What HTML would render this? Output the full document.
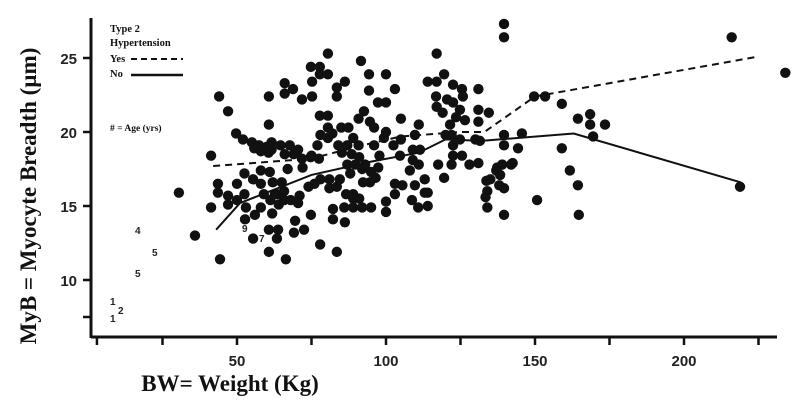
<!DOCTYPE html>
<html><head><meta charset="utf-8"><style>
body{margin:0;background:#fff}
svg{display:block}
.tk{font-family:"Liberation Sans Narrow","Liberation Sans",sans-serif;font-weight:bold;font-size:15px;fill:#222}
.lg{font-family:"Liberation Serif",serif;font-weight:bold;font-size:10.5px;fill:#111}
.ag{font-family:"Liberation Sans",sans-serif;font-weight:bold;font-size:10px;fill:#222}
.tt{font-family:"Liberation Serif",serif;font-weight:bold;font-size:23px;fill:#111}
</style></head><body>
<svg id="chart" width="801" height="408" viewBox="0 0 801 408">
<g id="axes"></g>
<g id="marks"></g>
<g>
<text class="lg" x="110" y="32">Type 2</text>
<text class="lg" x="110" y="46">Hypertension</text>
<text class="lg" x="110" y="62">Yes</text>
<line x1="131" y1="59" x2="183" y2="59" stroke="#111" stroke-width="2" stroke-dasharray="6,4"/>
<text class="lg" x="110" y="77">No</text>
<line x1="131" y1="75" x2="183" y2="75" stroke="#111" stroke-width="2.5"/>
<text class="lg" x="110" y="131" style="font-size:9.5px"># = Age (yrs)</text>
</g>
<g>
<text class="ag" x="135" y="234">4</text>
<text class="ag" x="152" y="256">5</text>
<text class="ag" x="135" y="277">5</text>
<text class="ag" x="110" y="305">1</text>
<text class="ag" x="118" y="314">2</text>
<text class="ag" x="110" y="322">1</text>
<text class="ag" x="242" y="232">9</text>
<text class="ag" x="259" y="242">7</text>
</g>
<text class="tt" x="230" y="391" text-anchor="middle">BW= Weight (Kg)</text>
<text class="tt" transform="translate(36,196) rotate(-90)" text-anchor="middle">MyB = Myocyte Breadth (µm)</text>
</svg>
<script>
const xTicks=[3,25,50,75,100,125,150,175,200,225];
const xLabels=[50,100,150,200];
const yTicks=[7.5,10,15,20,25];
const yLabels=[10,15,20,25];
const yesLine=[[42,17.7],[75,18.2],[90,19.0],[105,19.7],[125,20.0],[133,20.0],[150,22.4],[225,25.1]];
const noLine=[[43,13.4],[51,15.2],[75,17.1],[95,18.0],[111,18.6],[120,19.5],[132,19.4],[163,19.9],[219,16.6]];
const weights=[30.5,35.9,41.3,41.3,44,47,49.7,44.3,43.6,43.6,47,47,50,52,55,60.7,60.7,66,66,68.8,71.8,74.8,75.2,75.2,77.8,77.8,80.5,80.5,83.5,83.5,86.2,91.6,94.3,94.3,97.3,100,100,103,
52.7,55.4,60.7,63.4,66.4,60.7,63.8,69.1,72.5,69.5,77.9,83.5,74.8,82.2,86.2,82.2,86,89,92,95,89,91,100,100,
52.5,55.4,50,52.5,53,56,58,59,61.2,61.8,63.5,64,65.8,65.8,68,71,70.5,74,76,78,81,81,83.5,84.5,86.6,89,58,58,61,62,67,72,74.7,77.5,65,62.7,
55.8,57.4,58,60,60.6,61.6,61.6,64.6,66,67.7,69,70.5,71.8,75,77,78,80.5,80.5,82,84,85.2,85,87.4,89,90.8,92.6,94.6,96,99.3,100,102.5,87,88.5,89.7,91,92,93,95,96.5,97.4,94.6,92.3,87,88,90.8,96,97.8,103,103,77.8,80.5,
139.6,139.6,216,234,218.8,117,114,117,119.5,122.5,125.5,131,116.8,120.5,117,119,122.5,124.8,125.8,123.5,121.5,126.5,131,131,134.5,
122,124.8,122.5,130,131.5,120,122.5,125.5,122,128,131,117.5,119.5,
105,111,105,109.7,109,104.7,109,108,111,113,105.5,109.7,113,108.7,110.8,114,114,111.4,
133.7,134,133.4,137,138,138.3,139,139.6,139.6,142,142.5,145.6,144.3,139.6,134,139.6,135,137.3,
149.7,153.4,159,159,161.7,164.4,164.7,150.7,164.4,168.5,168.5,173.5,169.5];
const breadths=[15.9,13.0,18.4,14.9,22.4,21.4,19.9,11.4,16.5,15.9,15.7,15.1,15.4,19.5,19.3,22.4,20.5,23.3,22.6,22.9,22.2,24.4,23.4,22.4,24.4,23.9,25.3,23.9,23.0,22.4,23.4,24.8,23.9,22.8,22.0,23.9,22.0,22.9,
14.1,12.8,11.9,12.8,11.4,13.4,13.4,13.2,13.4,14.0,12.4,11.9,14.4,14.1,13.9,14.8,14.9,14.9,14.9,14.9,15.5,15.5,14.6,15.3,
17.2,16.8,16.5,15.8,14.9,14.4,14.9,15.8,15.4,14.5,15.8,15.1,16.0,15.4,15.4,15.7,15.2,16.3,16.5,16.8,16.8,16.2,16.3,16.8,15.8,15.8,17.4,16.5,17.3,16.6,17.5,17.6,18.3,18.2,16.6,15.8,
18.9,19.1,18.7,19.0,18.6,19.3,18.8,19.1,18.5,19.1,18.5,18.8,18.2,18.4,19.1,19.8,20.3,19.6,19.9,19.1,18.6,20.3,20.3,19.6,20.9,21.4,20.7,20.3,19.6,20.0,19.1,19.1,18.5,17.8,18.3,17.5,17.8,17.3,16.9,17.6,16.6,16.6,17.8,17.2,19.1,19.1,18.4,16.5,15.8,21.1,21.1,
27.3,26.4,26.4,24.0,16.3,25.3,23.4,23.4,23.9,23.2,22.9,22.9,22.4,22.2,21.7,21.3,22.0,21.5,22.4,21.0,20.5,20.8,21.5,20.7,21.3,
19.8,19.5,19.1,19.5,19.4,19.8,18.4,18.4,17.8,17.8,17.9,17.8,16.9,
20.9,20.5,19.5,19.8,18.8,18.4,18.1,17.4,17.8,16.8,16.4,16.4,15.9,15.4,14.9,15.0,15.9,18.8,
16.7,16.0,15.6,17.4,16.4,17.1,17.8,19.1,19.8,17.8,17.9,19.9,18.9,16.2,14.9,14.4,16.8,17.6,
22.4,22.4,21.9,18.9,17.4,16.4,14.4,15.4,20.9,21.2,20.5,20.5,19.7];
const NS='http://www.w3.org/2000/svg';
const X=v=>88+v*2.98, Y=v=>132-(v-20)*14.8;
function mk(tag,attrs,parent){const e=document.createElementNS(NS,tag);for(const k in attrs)e.setAttribute(k,attrs[k]);parent.appendChild(e);return e;}
const ax=document.getElementById('axes'), mg=document.getElementById('marks');
let e=mk('line',{x1:91,y1:18,x2:91,y2:338,stroke:'#111','stroke-width':3},ax);


e=mk('line',{x1:91,y1:337,x2:777,y2:337,stroke:'#111','stroke-width':3},ax);


xTicks.forEach(t=>{const l=mk('line',{x1:X(t),y1:337,x2:X(t),y2:345,stroke:'#111','stroke-width':2.5},ax);

});
xLabels.forEach(t=>{const s=mk('text',{x:X(t),y:366,'text-anchor':'middle',class:'tk'},ax);s.textContent=t;

});
yTicks.forEach(t=>{const l=mk('line',{x1:83,y1:Y(t),x2:91,y2:Y(t),stroke:'#111','stroke-width':2.5},ax);

});
yLabels.forEach(t=>{const s=mk('text',{x:77,y:Y(t)+6,'text-anchor':'end',class:'tk'},ax);s.textContent=t;

});
for(let i=0;i<weights.length;i++){const c=mk('circle',{cx:X(weights[i]),cy:Y(breadths[i]),r:5.2,fill:'#111'},mg);

}
let p=mk('polyline',{points:yesLine.map(d=>X(d[0])+','+Y(d[1])).join(' '),fill:'none',stroke:'#111','stroke-width':2,'stroke-dasharray':'7,5'},mg);


p=mk('polyline',{points:noLine.map(d=>X(d[0])+','+Y(d[1])).join(' '),fill:'none',stroke:'#111','stroke-width':2},mg);


</script>
</body></html>
